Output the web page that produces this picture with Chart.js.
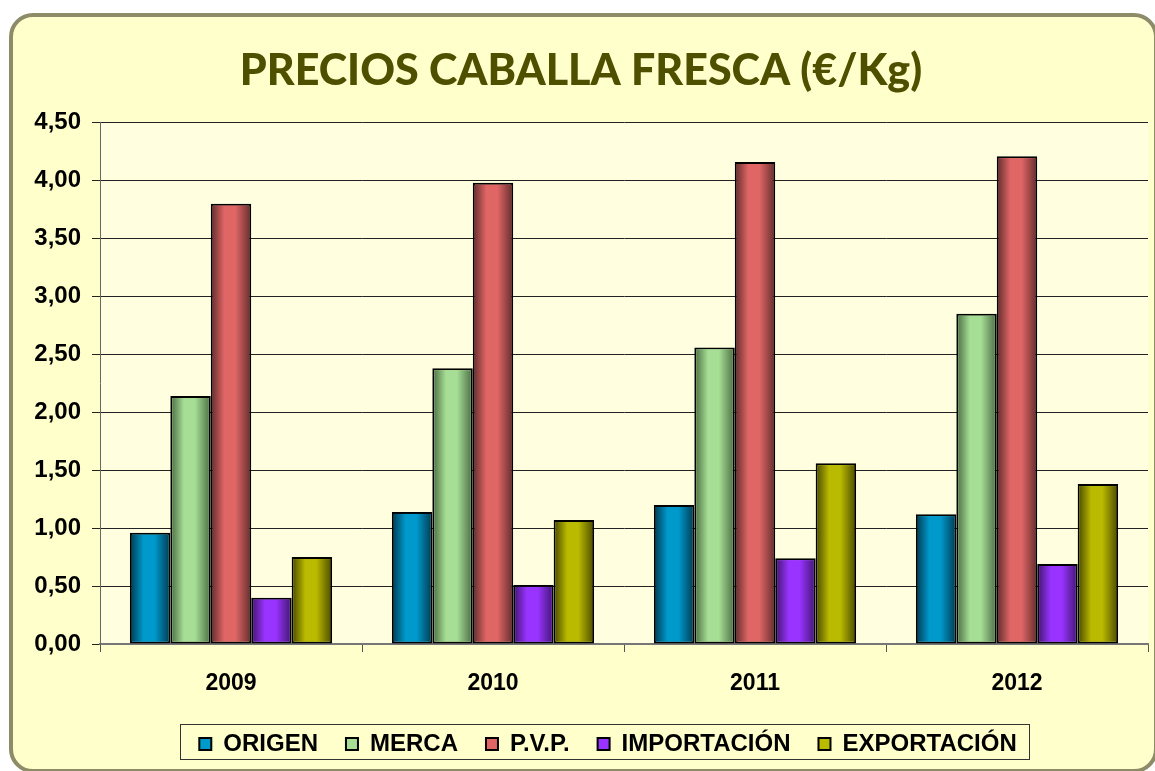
<!DOCTYPE html>
<html lang="es">
<head>
<meta charset="utf-8">
<title>Precios caballa fresca</title>
<script src="https://cdn.jsdelivr.net/npm/chart.js@4.4.1/dist/chart.umd.min.js"></script>
<style>
    html, body { margin: 0; padding: 0; background: #ffffff; }
    #frame {
        position: absolute;
        left: 9px; top: 13px;
        width: 1141px; height: 752px;
        border: 4px solid #8d8b68;
        border-radius: 24px;
        background: #ffffcc;
    }
    #chart-wrap { position: absolute; left: 0; top: 0; width: 1155px; height: 771px; }
</style>
</head>
<body>
<div id="frame"></div>
<div id="chart-wrap"><canvas id="myBarChart" width="1155" height="771"></canvas></div>
<script>
// --- Chart data ---
const years = ['2009', '2010', '2011', '2012'];
const origen = [0.96, 1.14, 1.20, 1.12];
const merca = [2.14, 2.38, 2.56, 2.85];
const pvp = [3.80, 3.98, 4.16, 4.21];
const importacion = [0.40, 0.51, 0.74, 0.69];
const exportacion = [0.75, 1.07, 1.56, 1.38];
const yTicks = [0, 0.5, 1, 1.5, 2, 2.5, 3, 3.5, 4, 4.5];

const seriesNames = ['ORIGEN', 'MERCA', 'P.V.P.', 'IMPORTACIÓN', 'EXPORTACIÓN'];
const seriesValues = [origen, merca, pvp, importacion, exportacion];
const baseColors = ['#0099cc', '#a6de95', '#e06666', '#9933ff', '#baba00'];
const edgeColors = ['#00465f', '#557a4c', '#733333', '#4a1a80', '#585800'];

document.addEventListener('DOMContentLoaded', function() {

    // Light background behind the plot area
    const plotBackground = {
        id: 'plotBackground',
        beforeDraw(chart) {
            const { ctx, chartArea: a } = chart;
            ctx.save();
            ctx.fillStyle = '#ffffe0';
            ctx.fillRect(a.left, a.top, a.right - a.left, a.bottom - a.top);
            ctx.restore();
        }
    };

    // Cylinder-like shading inside each bar
    const barShading = {
        id: 'barShading',
        afterDatasetsDraw(chart) {
            const ctx = chart.ctx;
            chart.data.datasets.forEach((ds, di) => {
                const meta = chart.getDatasetMeta(di);
                meta.data.forEach(bar => {
                    const p = bar.getProps(['x', 'y', 'base', 'width'], true);
                    const bw = 2;
                    const left = p.x - p.width / 2 + bw;
                    const right = p.x + p.width / 2 - bw;
                    const top = Math.min(p.y, p.base) + bw;
                    const bottom = Math.max(p.y, p.base) - bw;
                    const g = ctx.createLinearGradient(left, 0, right, 0);
                    g.addColorStop(0, edgeColors[di]);
                    g.addColorStop(0.32, baseColors[di]);
                    g.addColorStop(0.62, baseColors[di]);
                    g.addColorStop(1, edgeColors[di]);
                    ctx.save();
                    ctx.fillStyle = g;
                    ctx.fillRect(left, top, right - left, bottom - top);
                    ctx.restore();
                });
            });
        }
    };

    // Legend sits a little right of the canvas centre in the original
    const legendShift = {
        id: 'legendShift',
        afterLayout(chart) {
            if (!chart.legend) return;
            chart.legend.left += 27;
            chart.legend.right += 27;
        }
    };

    // Box around the legend items
    const legendBorder = {
        id: 'legendBorder',
        afterDraw(chart) {
            const boxes = chart.legend && chart.legend.legendHitBoxes;
            if (!boxes || !boxes.length) return;
            const first = boxes[0];
            const last = boxes[boxes.length - 1];
            const ctx = chart.ctx;
            const left = Math.round(first.left - 19) + 0.5;
            const right = Math.round(last.left + last.width + 12) + 0.5;
            const top = Math.round(first.top - 8) + 0.5;
            const bottom = Math.round(first.top + first.height + 3) + 0.5;
            ctx.save();
            ctx.strokeStyle = '#333333';
            ctx.lineWidth = 1;
            ctx.strokeRect(left, top, right - left, bottom - top);
            ctx.restore();
        }
    };

    const datasets = seriesNames.map((name, i) => ({
        label: name,
        data: seriesValues[i],
        backgroundColor: baseColors[i],
        borderColor: '#000000',
        borderWidth: 2,
        borderSkipped: false,
        barPercentage: 1,
        categoryPercentage: 0.772
    }));

    new Chart(document.getElementById('myBarChart').getContext('2d'), {
        type: 'bar',
        data: { labels: years, datasets: datasets },
        plugins: [plotBackground, barShading, legendShift, legendBorder],
        options: {
            responsive: false,
            animation: false,
            devicePixelRatio: 1,
            layout: { padding: { top: 14, left: 14, right: 7, bottom: 5 } },
            plugins: {
                tooltip: { enabled: false },
                title: {
                    display: true,
                    text: 'PRECIOS CABALLA FRESCA (€/Kg)',
                    color: '#4f4f00',
                    font: { family: 'Lato', size: 43, weight: '900', lineHeight: 1.2 },
                    padding: { top: 31, bottom: 26 }
                },
                legend: {
                    position: 'bottom',
                    labels: {
                        color: '#000000',
                        font: { family: '"Liberation Sans", Arial, sans-serif', size: 24, weight: 'bold' },
                        boxWidth: 12,
                        boxHeight: 12,
                        padding: 28
                    }
                }
            },
            scales: {
                x: {
                    grid: {
                        offset: true,
                        drawOnChartArea: false,
                        drawTicks: true,
                        tickLength: 8,
                        color: '#555555'
                    },
                    border: { color: '#777777', width: 2 },
                    ticks: {
                        color: '#000000',
                        font: { family: '"Liberation Sans", Arial, sans-serif', size: 23, weight: 'bold' },
                        padding: 18
                    },
                    afterFit(scale) { scale.height = 60; }
                },
                y: {
                    min: 0,
                    max: 4.5,
                    afterBuildTicks(scale) { scale.ticks = yTicks.map(v => ({ value: v })); },
                    grid: { color: '#222222', lineWidth: 1, tickLength: 8 },
                    border: { color: '#666666', width: 1 },
                    ticks: {
                        color: '#000000',
                        font: { family: '"Liberation Sans", Arial, sans-serif', size: 24, weight: 'bold' },
                        padding: 11,
                        callback: value => Number(value).toFixed(2).replace('.', ',')
                    },
                    afterFit(scale) { scale.width = 86; }
                }
            }
        }
    });
});
</script>
</body>
</html>
